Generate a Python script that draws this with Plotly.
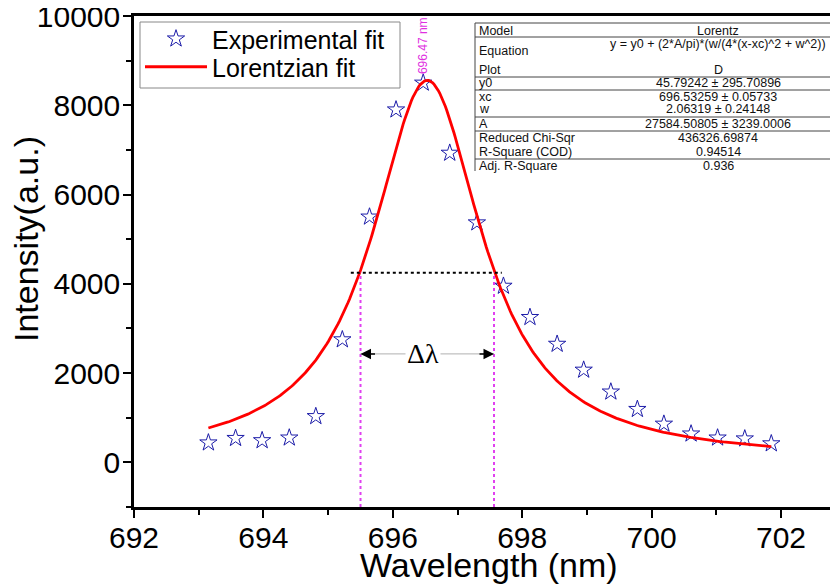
import numpy as np
import plotly.graph_objects as go

# ---------------- data ----------------
wavelength = [693.15, 693.57, 693.98, 694.40, 694.81, 695.22, 695.64, 696.05,
              696.47, 696.88, 697.30, 697.71, 698.12, 698.54, 698.95, 699.37,
              699.78, 700.19, 700.61, 701.02, 701.44, 701.85]
intensity = [440, 540, 490, 550, 1030, 2750, 5500, 7900,
             8500, 6930, 5370, 3950, 3250, 2650, 2070, 1580,
             1190, 860, 640, 550, 530, 420]

# Lorentz fit parameters (from the fit table)
Y0 = 45.79242
XC = 696.53259
W = 2.06319
A = 27584.50805

fit_x = np.linspace(wavelength[0], wavelength[-1], 400)
fit_y = Y0 + (2 * A / np.pi) * (W / (4 * (fit_x - XC) ** 2 + W ** 2))

half_level = 4250
fwhm_left = XC - W / 2
fwhm_right = XC + W / 2
peak_label = "696.47 nm"
peak_pos = 696.47
dl_level = 2430

x_ticks = [692, 694, 696, 698, 700, 702]
x_ticklabels = ["692", "694", "696", "698", "700", "702"]
y_ticks = [0, 2000, 4000, 6000, 8000, 10000]
y_ticklabels = ["0", "2000", "4000", "6000", "8000", "10000"]

table_labels = ["Model", "Equation", "Plot", "y0", "xc", "w", "A",
                "Reduced Chi-Sqr", "R-Square (COD)", "Adj. R-Square"]
table_values = ["Lorentz", "y = y0 + (2*A/pi)*(w/(4*(x-xc)^2 + w^2))", "D",
                "45.79242 ± 295.70896", "696.53259 ± 0.05733",
                "2.06319 ± 0.24148", "27584.50805 ± 3239.0006",
                "436326.69874", "0.94514", "0.936"]

# ---------------- layout helpers ----------------
# page has an 8px body margin: the figure is drawn 8px right/down
OFF = 8
W_FIG, H_FIG = 838 - OFF, 584 - OFF
# plot area in page pixels
L, R, T, B = 134, 838, 16, 507


def px(xp):
    return (xp - L) / (R - L)


def py(yp):
    return (B - yp) / (B - T)


FONT = "Liberation Sans, Arial, sans-serif"

fig = go.Figure()
fig.add_trace(go.Scatter(
    x=wavelength, y=intensity, mode="markers", name="Experimental fit",
    marker=dict(symbol="star-open", size=13, color="#1c1ca8",
                line=dict(width=1, color="#1c1ca8")),
    legend="legend",
))
fig.add_trace(go.Scatter(
    x=fit_x, y=fit_y, mode="lines", name="Lorentzian fit",
    line=dict(color="#ff0000", width=2.8),
    legend="legend2",
))

shapes = []
# FWHM construction
shapes.append(dict(type="line", xref="x", yref="y", x0=fwhm_left - 0.15, x1=fwhm_right + 0.12,
                   y0=half_level, y1=half_level,
                   line=dict(color="black", width=2, dash="dot")))
for xv in (fwhm_left, fwhm_right):
    shapes.append(dict(type="line", xref="x", yref="y", x0=xv, x1=xv,
                       y0=-1000, y1=half_level,
                       line=dict(color="#e040f0", width=2, dash="dot")))
shapes.append(dict(type="line", xref="x", yref="y", x0=fwhm_left, x1=fwhm_right,
                   y0=dl_level, y1=dl_level,
                   line=dict(color="#b0b0b0", width=1)))

# legend box
shapes.append(dict(type="rect", xref="paper", yref="paper",
                   x0=px(140), x1=px(400), y0=py(88), y1=py(22),
                   line=dict(color="#888", width=1), fillcolor="rgba(0,0,0,0)"))

# table lines
for yl in (23, 37, 77, 90, 117, 131, 159):
    shapes.append(dict(type="line", xref="paper", yref="paper",
                       x0=px(475), x1=1.0, y0=py(yl), y1=py(yl),
                       line=dict(color="#444", width=1)))
shapes.append(dict(type="line", xref="paper", yref="paper",
                   x0=px(475), x1=px(475), y0=py(23), y1=py(171),
                   line=dict(color="#444", width=1)))

annotations = []
row_y = [31, 44, 70, 83, 97, 109, 124, 138, 152, 166]
label_y = [31, 51, 70, 83, 97, 109, 124, 138, 152, 166]
for lab, val, ly, vy in zip(table_labels, table_values, label_y, row_y):
    annotations.append(dict(xref="paper", yref="paper", x=px(478), y=py(ly),
                            text=lab, showarrow=False, xanchor="left", yanchor="middle",
                            borderpad=0,
                            font=dict(family=FONT, size=12.5, color="#111")))
    annotations.append(dict(xref="paper", yref="paper", x=px(718), y=py(vy),
                            text=val, showarrow=False, xanchor="center", yanchor="middle",
                            borderpad=0,
                            font=dict(family=FONT, size=12.5, color="#111")))

# peak label
annotations.append(dict(x=peak_pos, y=9330, xref="x", yref="y", text=peak_label,
                        textangle=-90, showarrow=False, xanchor="center", yanchor="middle",
                        font=dict(family=FONT, size=12, color="#e030e0")))
# delta lambda
annotations.append(dict(x=XC - 0.06, y=dl_level, xref="x", yref="y", text="Δλ",
                        showarrow=False, bgcolor="white", xanchor="center", yanchor="middle",
                        font=dict(family="Liberation Serif, Times New Roman, serif",
                                  size=28, color="black")))
annotations.append(dict(x=fwhm_left, y=dl_level, xref="x", yref="y", text="",
                        showarrow=True, ax=16, ay=0, arrowhead=2, arrowsize=1.4,
                        arrowwidth=1.5, arrowcolor="black"))
annotations.append(dict(x=fwhm_right, y=dl_level, xref="x", yref="y", text="",
                        showarrow=True, ax=-16, ay=0, arrowhead=2, arrowsize=1.4,
                        arrowwidth=1.5, arrowcolor="black"))

# axis titles
annotations.append(dict(xref="paper", yref="paper", x=px(489), y=py(565),
                        text="Wavelength (nm)", showarrow=False,
                        xanchor="center", yanchor="middle", borderpad=0,
                        font=dict(family=FONT, size=34, color="black")))
annotations.append(dict(xref="paper", yref="paper", x=px(26), y=py(239),
                        text="Intensity(a.u.)", showarrow=False, textangle=-90,
                        xanchor="center", yanchor="middle",
                        font=dict(family=FONT, size=34, color="black")))

legend_common = dict(xanchor="left", yanchor="middle", bgcolor="rgba(0,0,0,0)",
                     borderwidth=0, itemwidth=62,
                     font=dict(family=FONT, size=25, color="black"))

fig.update_layout(
    width=W_FIG, height=H_FIG,
    margin=dict(l=L - OFF, r=0, t=T - OFF, b=H_FIG - (B - OFF), pad=0, autoexpand=False),
    paper_bgcolor="white", plot_bgcolor="white",
    showlegend=True,
    legend=dict(x=px(140), y=py(39), **legend_common),
    legend2=dict(x=px(140), y=py(67), **legend_common),
    shapes=shapes, annotations=annotations,
    xaxis=dict(range=[692, 692 + (R - L) / 64.7], tickvals=x_ticks, ticktext=x_ticklabels,
               ticks="outside", ticklen=8, tickwidth=2, tickcolor="black",
               showline=True, linewidth=2.5, linecolor="black", mirror=True,
               showgrid=False, zeroline=False, automargin=False,
               ticklabelstandoff=-6, ticklabeloverflow="allow",
               minor=dict(dtick=1, ticks="outside", ticklen=5, tickwidth=2, tickcolor="black"),
               tickfont=dict(family=FONT, size=30, color="black")),
    yaxis=dict(range=[-1000, 10000], tickvals=y_ticks, ticktext=y_ticklabels,
               ticks="outside", ticklen=8, tickwidth=2, tickcolor="black",
               showline=True, linewidth=2.5, linecolor="black", mirror=False,
               showgrid=False, zeroline=False, automargin=False,
               ticklabelstandoff=-3, ticklabeloverflow="allow",
               minor=dict(dtick=1000, ticks="outside", ticklen=5, tickwidth=2, tickcolor="black"),
               tickfont=dict(family=FONT, size=30, color="black")),
)

fig.write_html("out.html")
